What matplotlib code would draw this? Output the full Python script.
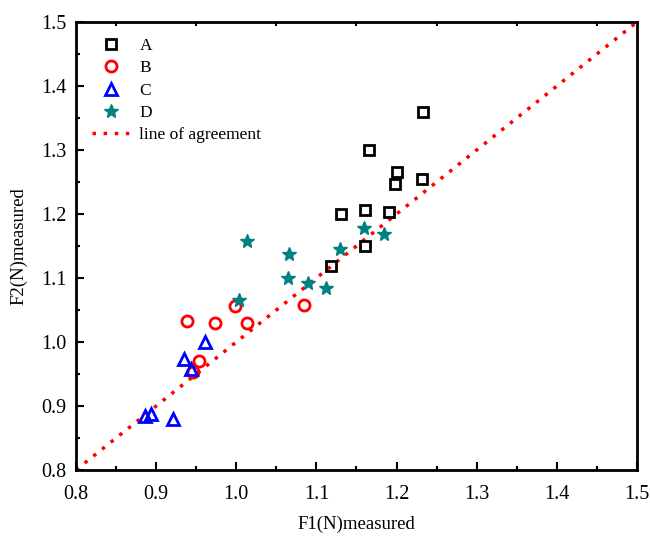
import numpy as np
import matplotlib
matplotlib.use("Agg")
import matplotlib.pyplot as plt
from matplotlib.ticker import MultipleLocator, FormatStrFormatter

plt.rcParams["font.family"] = ["Liberation Serif", "DejaVu Serif"]

# F1 (x) / F2 (y) measured
A_x = [1.233, 1.166, 1.200, 1.198, 1.232, 1.131, 1.160, 1.190, 1.160, 1.118]
A_y = [1.360, 1.300, 1.266, 1.247, 1.255, 1.200, 1.206, 1.203, 1.150, 1.119]

B_x = [0.939, 0.974, 0.999, 1.013, 1.085, 0.953, 0.946]
B_y = [1.033, 1.029, 1.056, 1.029, 1.058, 0.970, 0.953]

C_x = [0.961, 0.935, 0.944, 0.886, 0.893, 0.921]
C_y = [1.000, 0.973, 0.958, 0.885, 0.888, 0.880]

D_x = [1.013, 1.066, 1.065, 1.089, 1.112, 1.130, 1.159, 1.184, 1.004]
D_y = [1.158, 1.138, 1.100, 1.092, 1.084, 1.145, 1.178, 1.168, 1.066]

line_x = [0.8, 1.5]


def main() -> None:
    fig = plt.figure(figsize=(6.5, 5.36), dpi=100)
    ax = fig.add_axes([76 / 650, 1 - 470 / 536, 561 / 650, 448 / 536])

    ax.plot(A_x, A_y, "s", mfc="none", mec="black", mew=2, ms=7, label="A", zorder=3)
    ax.plot(B_x, B_y, "o", mfc="none", mec="red", mew=2, ms=8, label="B", zorder=3)
    ax.plot(C_x, C_y, "^", mfc="none", mec="blue", mew=2, ms=9, label="C", zorder=3)
    ax.plot(D_x, D_y, "*", color="#008080", mec="#008080", ms=10, label="D", zorder=3)
    ax.plot(line_x, line_x, color="red", ls=(0, (1, 2.2)), lw=2.5,
            label="line of agreement", zorder=2)

    ax.set_xlim(0.8, 1.5)
    ax.set_ylim(0.8, 1.5)
    ax.xaxis.set_major_locator(MultipleLocator(0.1))
    ax.yaxis.set_major_locator(MultipleLocator(0.1))
    ax.xaxis.set_minor_locator(MultipleLocator(0.05))
    ax.yaxis.set_minor_locator(MultipleLocator(0.05))
    ax.xaxis.set_major_formatter(FormatStrFormatter("%.1f"))
    ax.yaxis.set_major_formatter(FormatStrFormatter("%.1f"))
    ax.tick_params(which="both", direction="in", top=True, right=False,
                   labelsize=14.5, width=1.5)
    ax.tick_params(which="major", length=6)
    ax.tick_params(which="minor", length=3)
    ax.tick_params(axis="x", which="major", top=False, pad=11)
    ax.tick_params(axis="y", which="major", pad=7)
    for s in ax.spines.values():
        s.set_linewidth(2)

    ax.set_xlabel("F1(N)measured", fontsize=13.5, labelpad=8)
    ax.set_ylabel("F2(N)measured", fontsize=13.5, labelpad=10)

    ax.legend(loc="upper left", bbox_to_anchor=(0.0, 1.0), frameon=False,
              fontsize=12.5, handlelength=2.2, handletextpad=0.55,
              labelspacing=0.36)

    fig.savefig("out.png", dpi=100)
    plt.close(fig)


if __name__ == "__main__":
    main()
